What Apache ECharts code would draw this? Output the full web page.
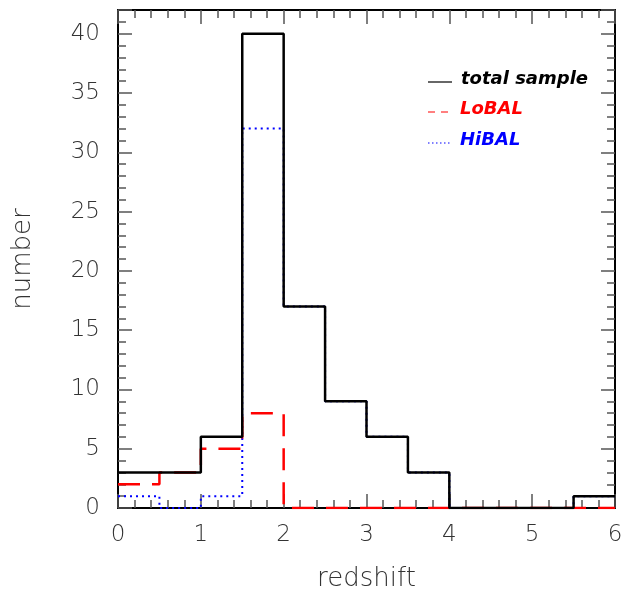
<!DOCTYPE html>
<html><head><meta charset="utf-8">
<script src="https://cdn.jsdelivr.net/npm/echarts@6/dist/echarts.min.js"></script>
<style>html,body{margin:0;padding:0;background:#fff}#c{width:631px;height:592px}</style>
</head><body><div id="c"></div>
<script>
const binEdges = [0,0.5,1,1.5,2,2.5,3,3.5,4,4.5,5,5.5,6];
const totalCounts = [3,3,6,40,17,9,6,3,0,0,0,1];
const loBALCounts = [2,3,5,8,0,0,0,0,0,0,0,0];
const hiBALCounts = [1,0,1,32,17,9,6,3,0,0,0,1];
const legendNames = ['total sample','LoBAL','HiBAL'];

function stepData(counts){
  const d = counts.map((v,i)=>[binEdges[i], v]);
  d.push([binEdges[binEdges.length-1], counts[counts.length-1]]);
  return d;
}
const font = 'DejaVu Sans';
const chart = echarts.init(document.getElementById('c'));
const axisLine = {show:true,onZero:false,lineStyle:{color:'#000',width:2}};
const tick = {inside:true,length:14,lineStyle:{color:'#555',width:1.5}};
const minor = {show:true,splitNumber:5,length:8,lineStyle:{color:'#555',width:1.5}};
chart.setOption({
  animation:false,
  grid:{left:118,right:16,top:10,bottom:84,containLabel:false,outerBoundsMode:'none'},
  xAxis:[{
    type:'value',min:0,max:6,interval:1,
    name:'redshift',nameLocation:'middle',nameGap:58,
    nameTextStyle:{fontFamily:font,fontSize:26,color:'#333',fontWeight:'lighter'},
    axisLabel:{fontFamily:font,fontSize:23,color:'#333',margin:16,fontWeight:'lighter'},
    axisTick:tick, minorTick:minor, axisLine:axisLine, splitLine:{show:false}
  },{
    type:'value',min:0,max:6,interval:1,position:'top',
    axisLabel:{show:false},
    axisTick:tick, minorTick:minor, axisLine:axisLine, splitLine:{show:false}
  }],
  yAxis:[{
    type:'value',min:0,max:42,interval:5,
    name:'number',nameLocation:'middle',nameGap:82,
    nameTextStyle:{fontFamily:font,fontSize:26,color:'#333',fontWeight:'lighter'},
    axisLabel:{fontFamily:font,fontSize:23,color:'#333',margin:18,fontWeight:'lighter',showMaxLabel:false},
    axisTick:tick, minorTick:minor, axisLine:axisLine, splitLine:{show:false}
  },{
    type:'value',min:0,max:42,interval:5,position:'right',
    axisLabel:{show:false},
    axisTick:tick, minorTick:minor, axisLine:axisLine, splitLine:{show:false}
  }],
  series:[
    {name:legendNames[2],type:'line',step:'end',symbol:'none',data:stepData(hiBALCounts),
      lineStyle:{color:'#0000ff',width:2,type:[2,4]},z:2},
    {name:legendNames[1],type:'line',step:'end',symbol:'none',data:stepData(loBALCounts),
      lineStyle:{color:'#ff0000',width:2.5,type:[22,12]},z:3},
    {name:legendNames[0],type:'line',step:'end',symbol:'none',data:stepData(totalCounts),
      lineStyle:{color:'#000',width:2.5},z:4}
  ],
  graphic:[
    {type:'line',shape:{x1:428,y1:82,x2:452,y2:82},style:{stroke:'#000',lineWidth:1.2}},
    {type:'text',left:461,top:70,style:{text:legendNames[0],fill:'#000',font:'italic bold 18px "DejaVu Sans"'}},
    {type:'line',shape:{x1:428,y1:112,x2:452,y2:112},style:{stroke:'#ff0000',lineWidth:1.2,lineDash:[7,6]}},
    {type:'text',left:460,top:100,style:{text:legendNames[1],fill:'#ff0000',font:'italic bold 18px "DejaVu Sans"'}},
    {type:'line',shape:{x1:428,y1:143,x2:452,y2:143},style:{stroke:'#0000ff',lineWidth:1.2,lineDash:[1.5,2.5]}},
    {type:'text',left:460,top:131,style:{text:legendNames[2],fill:'#0000ff',font:'italic bold 18px "DejaVu Sans"'}}
  ]
});
</script></body></html>
